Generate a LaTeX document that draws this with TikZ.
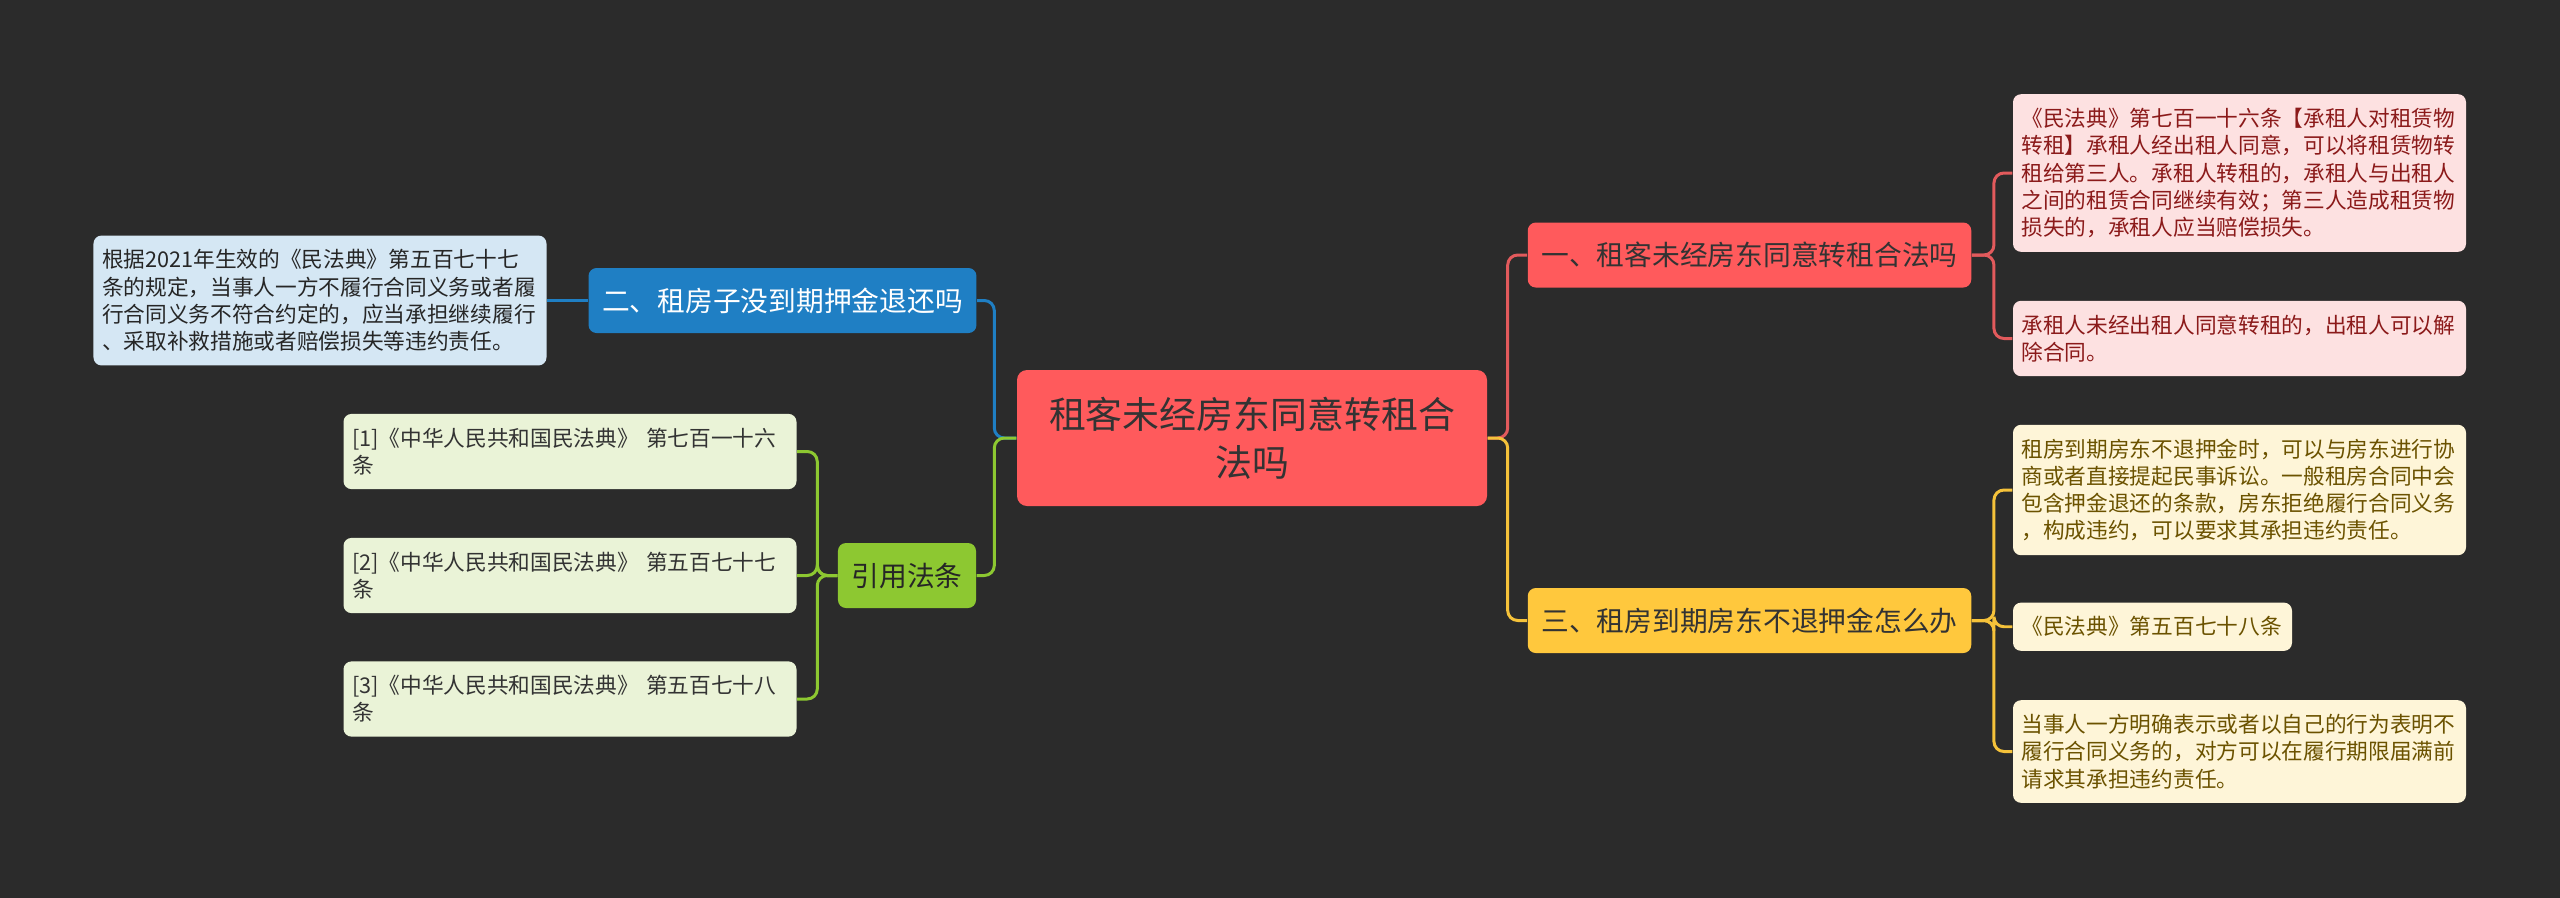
\documentclass[tikz,border=0pt]{standalone}
\usepackage{fontspec}
\setmainfont{Noto Sans CJK SC}
\usetikzlibrary{positioning}
\definecolor{bgdark}{HTML}{2B2B2B}
\definecolor{rootRed}{HTML}{FF5A5C}
\definecolor{inkDark}{HTML}{333333}
\definecolor{leafPink}{HTML}{FDE1E1}
\definecolor{inkRed}{HTML}{8B1A1A}
\definecolor{lineRed}{HTML}{E25A5C}
\definecolor{topicYellow}{HTML}{FFC83D}
\definecolor{leafYellow}{HTML}{FEF5D8}
\definecolor{inkYellow}{HTML}{6B5200}
\definecolor{lineYellow}{HTML}{F5C23A}
\definecolor{topicBlue}{HTML}{1F7FC4}
\definecolor{leafBlue}{HTML}{D5E7F4}
\definecolor{topicGreen}{HTML}{8DC831}
\definecolor{leafGreen}{HTML}{EAF3D7}

\begin{document}
\begin{tikzpicture}[node distance=1.24cm, auto,
	    rootbox/.style={rectangle, fill=rootRed, text=inkDark, text width=4.3cm, align=center, inner xsep=0.2cm, minimum height=1.36cm, rounded corners=0.1cm, font=\fontsize{10.5}{13.7}\selectfont},
	    topic/.style={rectangle, inner xsep=0.135cm, minimum height=0.65cm, rounded corners=0.08cm, font=\fontsize{7.9}{10}\selectfont},
	    leaf/.style={rectangle, text width=4.36cm, align=left, inner xsep=0.085cm, inner ysep=0.14cm, rounded corners=0.08cm, font=\fontsize{6.17}{7.75}\selectfont},
	    lred/.style={draw=lineRed, line width=0.85pt, rounded corners=0.1cm},
	    lyellow/.style={draw=lineYellow, line width=0.85pt, rounded corners=0.1cm},
	    lblue/.style={draw=topicBlue, line width=0.85pt, rounded corners=0.1cm},
	    lgreen/.style={draw=topicGreen, line width=0.85pt, rounded corners=0.1cm}]
	    
	    \useasboundingbox (0,0) rectangle (25.6,-8.97);
	    \fill [bgdark] (-0.1,0.1) rectangle (25.7,-9.07);
	    
	    \node [rootbox] (root) at (12.52,-4.38) {租客未经房东同意转租合\\法吗};
	    
	    % right side
	    \node [topic, fill=rootRed, text=inkDark, right of=root, node distance=4.975cm, yshift=1.83cm] (legal) {一、租客未经房东同意转租合法吗};
	    \node [leaf, fill=leafPink, text=inkRed, right of=legal, node distance=4.9cm, yshift=0.82cm] (art716) {《民法典》第七百一十六条【承租人对租赁物\\转租】承租人经出租人同意，可以将租赁物转\\租给第三人。承租人转租的，承租人与出租人\\之间的租赁合同继续有效；第三人造成租赁物\\损失的，承租人应当赔偿损失。};
	    \node [leaf, fill=leafPink, text=inkRed, below of=art716, node distance=1.655cm] (terminate) {承租人未经出租人同意转租的，出租人可以解\\除合同。};
	    
	    \node [topic, fill=topicYellow, text=inkDark, right of=root, node distance=4.975cm, yshift=-1.825cm] (deposit) {三、租房到期房东不退押金怎么办};
	    \node [leaf, fill=leafYellow, text=inkYellow, right of=deposit, node distance=4.9cm, yshift=1.305cm] (negotiate) {租房到期房东不退押金时，可以与房东进行协\\商或者直接提起民事诉讼。一般租房合同中会\\包含押金退还的条款，房东拒绝履行合同义务\\，构成违约，可以要求其承担违约责任。};
	    \node [leaf, fill=leafYellow, text=inkYellow, text width=2.62cm, below=0.46cm of negotiate.south west, anchor=north west] (art578) {《民法典》第五百七十八条};
	    \node [leaf, fill=leafYellow, text=inkYellow, below of=negotiate, node distance=2.615cm] (breach) {当事人一方明确表示或者以自己的行为表明不\\履行合同义务的，对方可以在履行期限届满前\\请求其承担违约责任。};
	    
	    % left side
	    \node [topic, fill=topicBlue, text=white, left of=root, node distance=4.695cm, yshift=1.375cm] (refund) {二、租房子没到期押金退还吗};
	    \node [leaf, fill=leafBlue, text=black!85, left of=refund, node distance=4.625cm] (art577) {根据2021年生效的《民法典》第五百七十七\\条的规定，当事人一方不履行合同义务或者履\\行合同义务不符合约定的，应当承担继续履行\\、采取补救措施或者赔偿损失等违约责任。};
	    
	    \node [topic, fill=topicGreen, text=black!85, left of=root, node distance=3.45cm, yshift=-1.375cm] (cite) {引用法条};
	    \node [leaf, fill=leafGreen, text=inkDark, left of=cite, node distance=3.37cm] (ref2) {[2]《中华人民共和国民法典》 第五百七十七\\条};
	    \node [leaf, fill=leafGreen, text=inkDark, above of=ref2] (ref1) {[1]《中华人民共和国民法典》 第七百一十六\\条};
	    \node [leaf, fill=leafGreen, text=inkDark, below of=ref2, node distance=1.235cm] (ref3) {[3]《中华人民共和国民法典》 第五百七十八\\条};
	    
	    \path [lred] (root.east) -- ++(0.2,0) |- (legal.west);
	    \path [lred] (legal.east) -- ++(0.22,0) |- (art716.west);
	    \path [lred] (legal.east) -- ++(0.22,0) |- (terminate.west);
	    \path [lyellow] (root.east) -- ++(0.2,0) |- (deposit.west);
	    \path [lyellow] (deposit.east) -- ++(0.22,0) |- (negotiate.west);
	    \path [lyellow] (deposit.east) -- ++(0.22,0) |- (art578.west);
	    \path [lyellow] (deposit.east) -- ++(0.22,0) |- (breach.west);
	    \path [lblue] (root.west) -- ++(-0.22,0) |- (refund.east);
	    \path [lblue] (refund.west) -- (art577.east);
	    \path [lgreen] (root.west) -- ++(-0.22,0) |- (cite.east);
	    \path [lgreen] (cite.west) -- ++(-0.2,0) |- (ref1.east);
	    \path [lgreen] (cite.west) -- ++(-0.2,0) |- (ref2.east);
	    \path [lgreen] (cite.west) -- ++(-0.2,0) |- (ref3.east);
	\end{tikzpicture}
\end{document}
